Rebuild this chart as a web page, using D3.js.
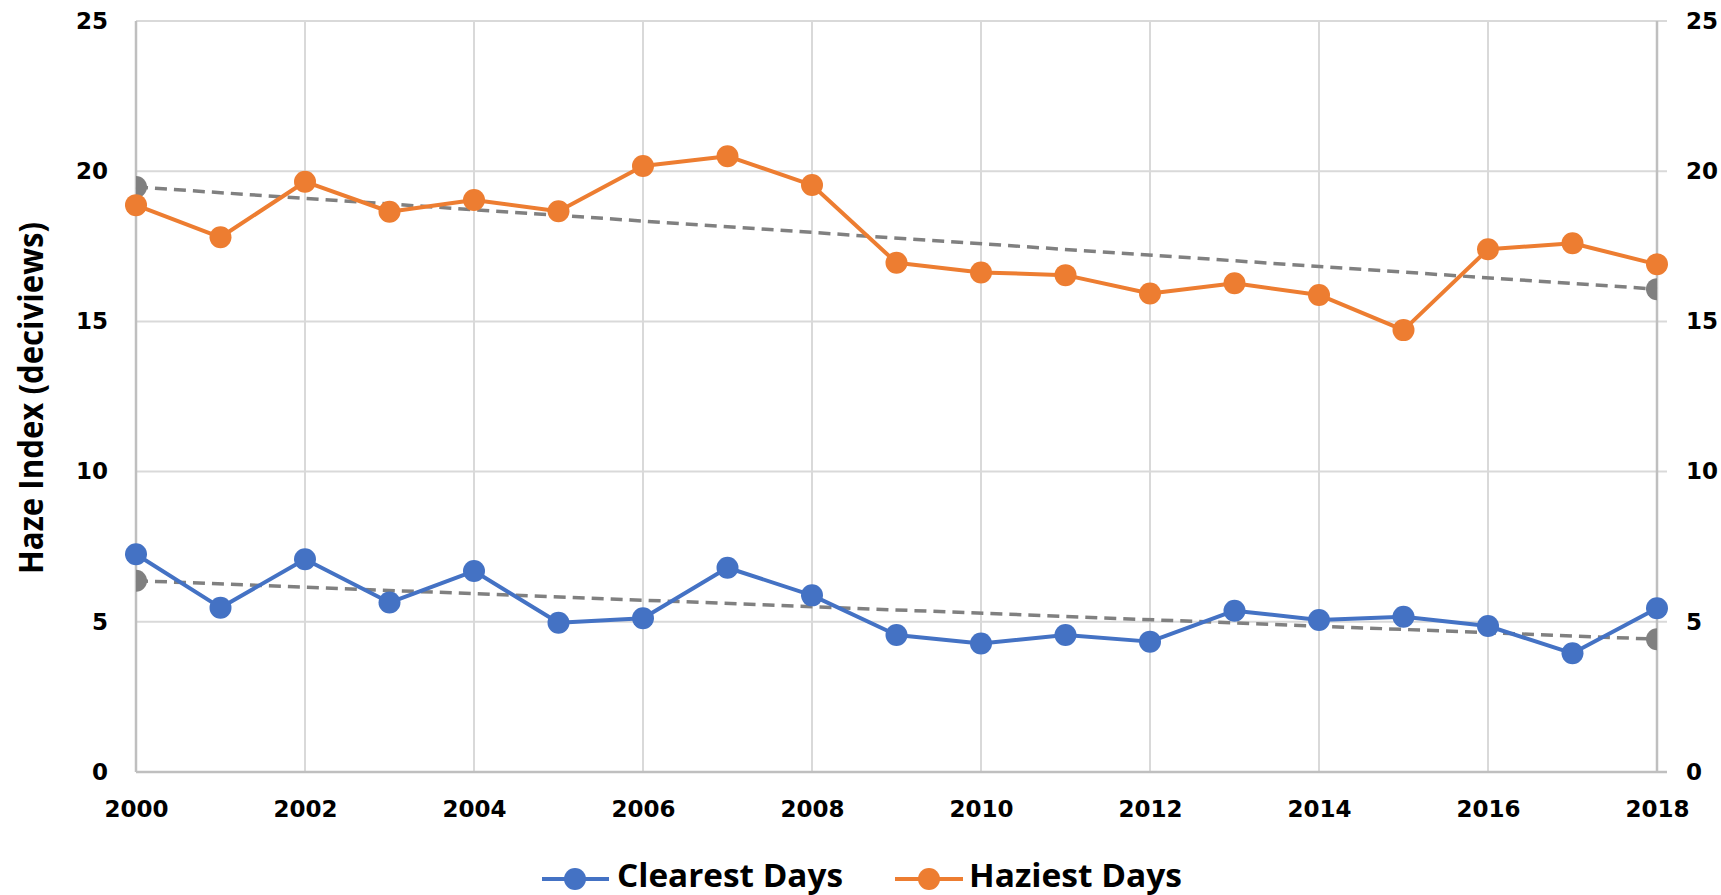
<!DOCTYPE html>
<html>
<head>
<meta charset="utf-8">
<script src="https://cdn.jsdelivr.net/npm/d3@7"></script>
<style>
  html, body { margin: 0; padding: 0; background: #fff; }
  svg { display: block; }
</style>
</head>
<body>
<svg id="chart" width="1721" height="895"></svg>
<script>
// ---- data ----
const years = [2000, 2001, 2002, 2003, 2004, 2005, 2006, 2007, 2008, 2009, 2010, 2011, 2012, 2013, 2014, 2015, 2016, 2017, 2018];
const clearestDays = [7.25, 5.47, 7.08, 5.64, 6.69, 4.97, 5.12, 6.80, 5.88, 4.56, 4.28, 4.56, 4.34, 5.37, 5.06, 5.17, 4.86, 3.95, 5.45];
const haziestDays = [18.87, 17.80, 19.65, 18.65, 19.04, 18.67, 20.17, 20.50, 19.54, 16.95, 16.63, 16.54, 15.93, 16.27, 15.88, 14.71, 17.40, 17.60, 16.90];
const xTickValues = [2000, 2002, 2004, 2006, 2008, 2010, 2012, 2014, 2016, 2018];
const yTickValues = [0, 5, 10, 15, 20, 25];
const seriesNames = ["Clearest Days", "Haziest Days"];
const yTitle = "Haze Index (deciviews)";

(function () {
// ---- layout ----
const svg = d3.select("#chart");
const pL = 136, pR = 1657, pT = 21, pB = 772;
const x = d3.scaleLinear().domain([2000, 2018]).range([pL, pR]);
const y = d3.scaleLinear().domain([0, 25]).range([pB, pT]);
const colors = { clear: "#4472C4", hazy: "#ED7D31", trend: "#808080" };
const tickFont = "'DejaVu Sans', sans-serif";

// clip for trend end markers
svg.append("defs").append("clipPath").attr("id", "plotclip")
  .append("rect").attr("x", pL).attr("y", pT).attr("width", pR - pL).attr("height", pB - pT);

// gridlines
const grid = svg.append("g");
grid.selectAll("line.h").data(yTickValues.filter(v => v > 0)).join("line")
  .attr("x1", pL).attr("x2", pR + 10)
  .attr("y1", d => y(d)).attr("y2", d => y(d))
  .attr("stroke", "#d9d9d9").attr("stroke-width", 2);
grid.selectAll("line.v").data(xTickValues.filter(v => v > 2000 && v < 2018)).join("line")
  .attr("x1", d => x(d)).attr("x2", d => x(d))
  .attr("y1", pT).attr("y2", pB)
  .attr("stroke", "#d9d9d9").attr("stroke-width", 2);

// axis lines
svg.append("line").attr("x1", pL).attr("x2", pL).attr("y1", pT).attr("y2", pB)
  .attr("stroke", "#bfbfbf").attr("stroke-width", 2.5);
svg.append("line").attr("x1", pR).attr("x2", pR).attr("y1", pT).attr("y2", pB)
  .attr("stroke", "#bfbfbf").attr("stroke-width", 2.5);
svg.append("line").attr("x1", pL).attr("x2", pR + 10).attr("y1", pB).attr("y2", pB)
  .attr("stroke", "#bfbfbf").attr("stroke-width", 2.5);

// axes (labels)
function styleAxis(g) {
  g.select(".domain").remove();
  g.selectAll(".tick line").remove();
  g.selectAll("text").attr("font-family", tickFont).attr("font-weight", "bold")
    .attr("font-size", 23).attr("fill", "#000");
}
svg.append("g").attr("transform", `translate(${pL},0)`)
  .call(d3.axisLeft(y).tickValues(yTickValues).tickSize(0).tickPadding(28).tickFormat(d3.format("d")))
  .call(styleAxis);
svg.append("g").attr("transform", `translate(${pR},0)`)
  .call(d3.axisRight(y).tickValues(yTickValues).tickSize(0).tickPadding(29).tickFormat(d3.format("d")))
  .call(styleAxis);
svg.append("g").attr("transform", `translate(0,${pB})`)
  .call(d3.axisBottom(x).tickValues(xTickValues).tickSize(0).tickPadding(29).tickFormat(d3.format("d")))
  .call(styleAxis);

// y-axis title
svg.append("text")
  .attr("transform", "translate(43,398) rotate(-90)")
  .attr("text-anchor", "middle")
  .attr("font-family", "'Open Sans', sans-serif").attr("font-weight", 700)
  .attr("font-size", 34).attr("fill", "#000")
  .attr("textLength", 352).attr("lengthAdjust", "spacingAndGlyphs")
  .text(yTitle);

// trendlines (least-squares fit of each series)
function fit(vals) {
  const n = vals.length;
  const mx = d3.mean(years), my = d3.mean(vals);
  let sxy = 0, sxx = 0;
  years.forEach((yr, i) => { sxy += (yr - mx) * (vals[i] - my); sxx += (yr - mx) ** 2; });
  const b = sxy / sxx, a = my - b * mx;
  return [years[0], years[n - 1]].map(yr => ({ yr, v: a + b * yr }));
}
[clearestDays, haziestDays].forEach(vals => {
  const pts = fit(vals);
  const tg = svg.append("g");
  tg.append("line")
    .attr("x1", x(pts[0].yr)).attr("y1", y(pts[0].v))
    .attr("x2", x(pts[1].yr)).attr("y2", y(pts[1].v))
    .attr("stroke", colors.trend).attr("stroke-width", 3.5)
    .attr("stroke-dasharray", "12,7");
  tg.append("g").attr("clip-path", "url(#plotclip)")
    .selectAll("circle").data(pts).join("circle")
    .attr("cx", d => x(d.yr)).attr("cy", d => y(d.v)).attr("r", 11)
    .attr("fill", colors.trend);
});

// series
const line = d3.line().x((d, i) => x(years[i])).y(d => y(d));
[[clearestDays, colors.clear], [haziestDays, colors.hazy]].forEach(([vals, c]) => {
  const g = svg.append("g");
  g.append("path").attr("d", line(vals)).attr("fill", "none")
    .attr("stroke", c).attr("stroke-width", 4).attr("stroke-linejoin", "round");
  g.selectAll("circle").data(vals).join("circle")
    .attr("cx", (d, i) => x(years[i])).attr("cy", d => y(d)).attr("r", 11)
    .attr("fill", c);
});

// legend
const legendItems = [
  { name: seriesNames[0], color: colors.clear, x1: 542, x2: 609, mx: 575, tx: 617, tl: 226 },
  { name: seriesNames[1], color: colors.hazy, x1: 895, x2: 963, mx: 929, tx: 969, tl: 213 }
];
const lg = svg.append("g");
const ly = 879;
legendItems.forEach(it => {
  lg.append("line").attr("x1", it.x1).attr("x2", it.x2).attr("y1", ly).attr("y2", ly)
    .attr("stroke", it.color).attr("stroke-width", 4);
  lg.append("circle").attr("cx", it.mx).attr("cy", ly).attr("r", 11).attr("fill", it.color);
  lg.append("text").attr("x", it.tx).attr("y", 887)
    .attr("font-family", "'Open Sans', sans-serif").attr("font-weight", 700)
    .attr("font-size", 32).attr("fill", "#000")
    .attr("textLength", it.tl).attr("lengthAdjust", "spacingAndGlyphs")
    .text(it.name);
});
})();
</script>
</body>
</html>
